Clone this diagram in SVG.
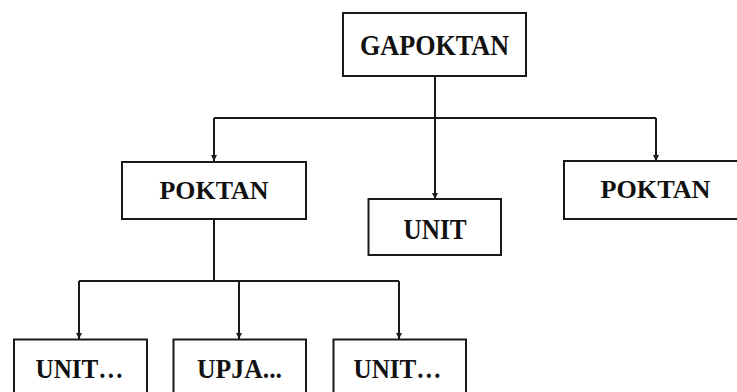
<svg xmlns="http://www.w3.org/2000/svg" width="737" height="392" viewBox="0 0 737 392">
  <style>
    .box { fill: #ffffff; stroke: #1a1a1a; stroke-width: 2; }
    .lbl { font-family: "Liberation Serif", "Times New Roman", serif; font-weight: bold; fill: #111111; text-anchor: middle; }
    .link { fill: none; stroke: #1a1a1a; stroke-width: 2; }
  </style>
  <defs>
    <marker id="arrow" viewBox="0 0 6 6" refX="6" refY="3" markerWidth="6" markerHeight="6" markerUnits="userSpaceOnUse" orient="auto">
      <path d="M0,0 L6,3 L0,6 Z" fill="#1a1a1a"/>
    </marker>
  </defs>
  <rect width="737" height="392" fill="#ffffff"/>

  <!-- connectors -->
  <g id="connectors">
    <path class="link" d="M435,76 V118"/>
    <path class="link" d="M214,118 H656"/>
    <path class="link" d="M214,118 V161" marker-end="url(#arrow)"/>
    <path class="link" d="M435,118 V199" marker-end="url(#arrow)"/>
    <path class="link" d="M656,118 V161" marker-end="url(#arrow)"/>
    <path class="link" d="M214,219 V281"/>
    <path class="link" d="M79,281 H399"/>
    <path class="link" d="M79,281 V339" marker-end="url(#arrow)"/>
    <path class="link" d="M239,281 V339" marker-end="url(#arrow)"/>
    <path class="link" d="M399,281 V339" marker-end="url(#arrow)"/>
  </g>

  <g id="gapoktan">
    <rect class="box" x="343" y="13" width="183" height="63"/>
    <text class="lbl" x="434.5" y="54.5" font-size="30" textLength="149" lengthAdjust="spacingAndGlyphs">GAPOKTAN</text>
  </g>

  <g id="poktan-left">
    <rect class="box" x="122" y="162" width="184" height="57"/>
    <text class="lbl" x="214" y="198.5" font-size="25" textLength="109" lengthAdjust="spacingAndGlyphs">POKTAN</text>
  </g>

  <g id="unit-center">
    <rect class="box" x="368.5" y="199" width="132.5" height="56"/>
    <text class="lbl" x="435" y="238.5" font-size="29" textLength="63" lengthAdjust="spacingAndGlyphs">UNIT</text>
  </g>

  <g id="poktan-right">
    <rect class="box" x="564" y="161" width="184" height="58"/>
    <text class="lbl" x="655.5" y="198" font-size="25" textLength="110" lengthAdjust="spacingAndGlyphs">POKTAN</text>
  </g>

  <g id="unit-a">
    <rect class="box" x="14" y="339.5" width="133" height="60"/>
    <text class="lbl" x="79.5" y="378" font-size="26.5" textLength="88" lengthAdjust="spacingAndGlyphs">UNIT…</text>
  </g>

  <g id="upja">
    <rect class="box" x="173.5" y="339.5" width="132.5" height="60"/>
    <text class="lbl" x="239.5" y="378" font-size="26.5" textLength="85" lengthAdjust="spacingAndGlyphs">UPJA...</text>
  </g>

  <g id="unit-b">
    <rect class="box" x="333.5" y="339.5" width="132.5" height="60"/>
    <text class="lbl" x="397.5" y="378" font-size="26.5" textLength="88" lengthAdjust="spacingAndGlyphs">UNIT…</text>
  </g>
</svg>
